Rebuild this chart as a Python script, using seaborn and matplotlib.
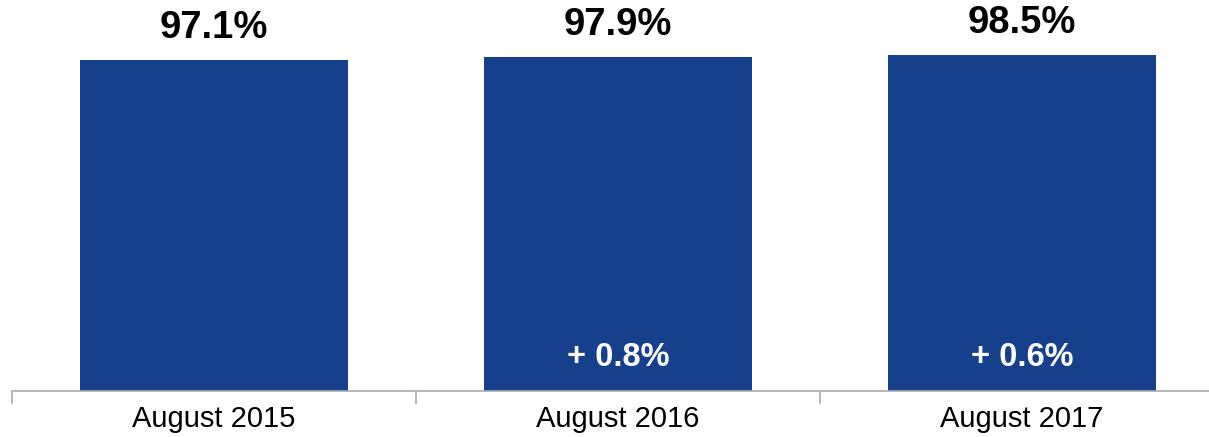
import seaborn as sns
import matplotlib.pyplot as plt
import matplotlib.transforms as mtransforms
import pandas as pd

# data
periods = ["August 2015", "August 2016", "August 2017"]
rates = [97.1, 97.9, 98.5]
value_labels = ["97.1%", "97.9%", "98.5%"]
change_labels = ["", "+ 0.8%", "+ 0.6%"]

df = pd.DataFrame({"period": periods, "rate": rates})

sns.set_theme(style="white")
plt.rcParams["font.family"] = ["Liberation Sans", "DejaVu Sans"]

fig = plt.figure(figsize=(12.09, 4.37), dpi=100)
# axes runs a little past the right edge, like the original slide
ax = fig.add_axes([12 / 1209, 1 - 391 / 437, 1212 / 1209, 391 / 437])

sns.barplot(data=df, x="period", y="rate", color="#163F8C", saturation=1,
            width=0.663, linewidth=0, ax=ax)
ax.set_ylim(0, 391 / 3.409)
ax.set_xlim(-0.5, 2.5)

# value labels above bars
for i, (v, lab) in enumerate(zip(rates, value_labels)):
    ax.annotate(lab, xy=(i, v), xytext=(0, 10), textcoords="offset points",
                ha="center", va="bottom", fontsize=27.5, fontweight="bold",
                color="black")

# change labels inside bars, near the bottom
trans = mtransforms.blended_transform_factory(ax.transData, ax.transAxes)
for i, lab in enumerate(change_labels):
    if lab:
        ax.text(i, 34 / 391, lab, transform=trans, ha="center", va="center",
                fontsize=23.5, fontweight="bold", color="white")

# axis styling
for s in ["top", "right", "left"]:
    ax.spines[s].set_visible(False)
ax.spines["bottom"].set_color("#aaaaaa")
ax.spines["bottom"].set_linewidth(1.2)
ax.set_yticks([])
ax.set_xlabel("")
ax.set_ylabel("")
ax.set_xticks([0, 1, 2])
ax.set_xticklabels(periods, fontsize=21, color="black")
ax.tick_params(axis="x", which="major", length=0, pad=10)
ax.set_xticks([-0.5, 0.5, 1.5, 2.5], minor=True)
ax.tick_params(axis="x", which="minor", length=9, width=1.2, color="#aaaaaa",
               direction="out", bottom=True)

fig.savefig("out.png", dpi=100)
